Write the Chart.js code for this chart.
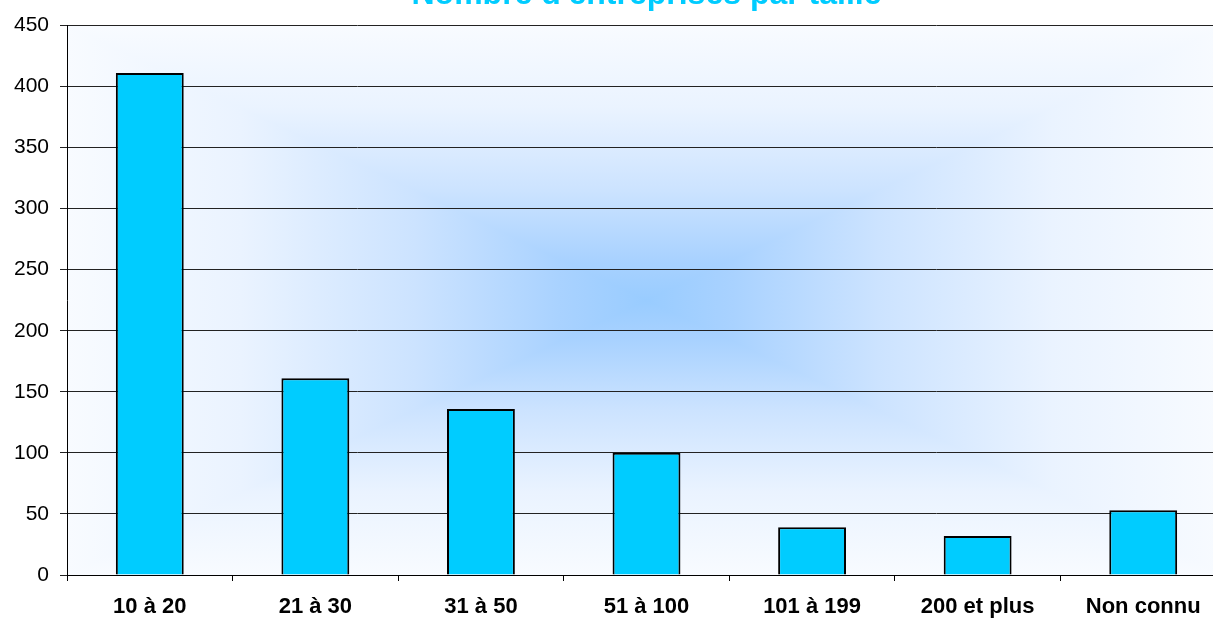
<!DOCTYPE html>
<html>
<head>
<meta charset="utf-8">
<script src="https://cdn.jsdelivr.net/npm/chart.js@4"></script>
<style>
  html, body { margin: 0; padding: 0; background: #fff; overflow: hidden; }
  #wrap { position: absolute; left: 0; top: -40px; width: 1230px; height: 659px; }
</style>
</head>
<body>
<div id="wrap"><canvas id="myChart"></canvas></div>
<script>
const chartTitle = "Nombre d'entreprises par taille";
const categories = ["10 à 20", "21 à 30", "31 à 50", "51 à 100", "101 à 199", "200 et plus", "Non connu"];
const counts = [411, 161, 136, 100, 39, 32, 53];
const yTicks = [0, 50, 100, 150, 200, 250, 300, 350, 400, 450];

// Excel-like "from centre" rectangular gradient behind the plot
const centreGradient = {
  id: "centreGradient",
  beforeDraw(chart) {
    const { ctx, chartArea: a } = chart;
    const cx = (a.left + a.right) / 2;
    const cy = (a.top + a.bottom) / 2;
    const stops = [
      [0, "#f8fbff"],
      [0.3, "#eaf3ff"],
      [0.6, "#cce3ff"],
      [0.85, "#a9d2ff"],
      [1, "#99ccff"],
    ];
    ctx.save();
    // top/bottom: one vertical gradient over the whole area
    const gv = ctx.createLinearGradient(0, a.top, 0, a.bottom);
    stops.forEach((s) => gv.addColorStop(s[0] / 2, s[1]));
    stops.slice().reverse().forEach((s) => gv.addColorStop(1 - s[0] / 2, s[1]));
    ctx.fillStyle = gv;
    ctx.fillRect(a.left, a.top, a.width, a.height);
    // left/right triangles with horizontal gradient
    const gh = ctx.createLinearGradient(a.left, 0, a.right, 0);
    stops.forEach((s) => gh.addColorStop(s[0] / 2, s[1]));
    stops.slice().reverse().forEach((s) => gh.addColorStop(1 - s[0] / 2, s[1]));
    ctx.fillStyle = gh;
    ctx.beginPath();
    ctx.moveTo(a.left, a.top);
    ctx.lineTo(cx, cy);
    ctx.lineTo(a.left, a.bottom);
    ctx.closePath();
    ctx.moveTo(a.right, a.top);
    ctx.lineTo(cx, cy);
    ctx.lineTo(a.right, a.bottom);
    ctx.closePath();
    ctx.fill();
    ctx.restore();
  },
};

const ctx = document.getElementById("myChart").getContext("2d");

new Chart(ctx, {
  type: "bar",
  data: {
    labels: categories,
    datasets: [
      {
        data: counts,
        backgroundColor: "#00ccff",
        borderColor: "#000000",
        borderWidth: 2,
        barPercentage: 0.41,
        categoryPercentage: 1,
      },
    ],
  },
  options: {
    responsive: true,
    maintainAspectRatio: false,
    animation: false,
    layout: { padding: { left: 0, right: 4, top: 0, bottom: 0 } },
    plugins: {
      legend: { display: false },
      tooltip: { enabled: false },
      title: {
        display: true,
        fullSize: false,
        text: chartTitle,
        color: "#00ccff",
        font: { family: "Arial, 'Liberation Sans'", size: 32, weight: "bold" },
        padding: { top: 16, bottom: 11 },
      },
    },
    scales: {
      x: {
        afterFit(scale) { scale.height = 44; },
        border: { display: true, color: "#000", width: 1 },
        grid: {
          offset: true,
          drawOnChartArea: false,
          drawTicks: true,
          tickLength: 6,
          color: "#000",
        },
        ticks: {
          color: "#000",
          padding: 13,
          font: { family: "Arial, 'Liberation Sans'", size: 22, weight: "bold" },
          maxRotation: 0,
        },
      },
      y: {
        min: 0,
        max: 450,
        afterFit(scale) { scale.width = 67; },
        afterBuildTicks(scale) { scale.ticks = yTicks.map((v) => ({ value: v })); },
        border: { display: true, color: "#000", width: 1 },
        grid: { color: "#222", lineWidth: 1, tickLength: 7 },
        ticks: {
          color: "#000",
          padding: 11,
          font: { family: "Arial, 'Liberation Sans'", size: 21 },
        },
      },
    },
  },
  plugins: [centreGradient],
});
</script>
</body>
</html>
